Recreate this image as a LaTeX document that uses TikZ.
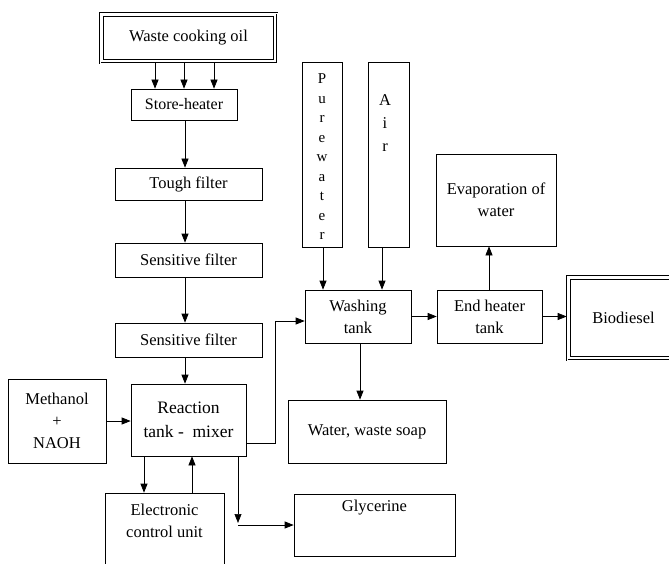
\documentclass[tikz,border=0pt]{standalone}
\usepackage{fontspec}
\setmainfont{Liberation Serif}
\usetikzlibrary{arrows.meta,calc}
\begin{document}
\begin{tikzpicture}[x=1pt,y=-1pt,
  box/.style={draw,line width=0.7pt,inner sep=0pt,align=center,font=\fontsize{16.5}{22}\selectfont},
  txt/.style={inner sep=0pt,align=center,font=\fontsize{16.5}{22}\selectfont},
  triple/.style={box,double,double distance=0.8pt,line width=0.6pt},
  arr/.style={line width=0.7pt,-{Triangle[length=9pt,width=7pt]}},
  ln/.style={line width=0.7pt}]
\useasboundingbox (0,0) rectangle (669,564);
% boxes
\node[triple,minimum width=177pt,minimum height=50pt] (woil) at (188.5,38) {Waste cooking oil};
\draw[line width=0.6pt] ([shift={(4pt,-4pt)}]woil.north west) rectangle ([shift={(-4pt,4pt)}]woil.south east);
\node[box,minimum width=106pt,minimum height=31pt,font=\fontsize{16}{20}\selectfont] (store) at (184,104.5) {Store-heater};
\node[box,minimum width=147pt,minimum height=32pt] (tough) at (188.5,184) {Tough filter};
\node[box,minimum width=147pt,minimum height=34pt] (sens1) at (188.5,260) {Sensitive filter};
\node[box,minimum width=147pt,minimum height=34pt] (sens2) at (188.5,340) {Sensitive filter};
\node[box,minimum width=115pt,minimum height=72pt,font=\fontsize{17.5}{24}\selectfont] (react) at (188.5,420) {Reaction\\tank -\ \ mixer};
\node[box,minimum width=98pt,minimum height=84pt] (meth) at (57,421) {Methanol\\+\\NAOH};
\node[box,minimum width=119pt,minimum height=87pt] (ecu) at (164.5,536.5) {};
\node[txt] (ecut) at (164.5,521) {Electronic\\control unit};
\node[box,minimum width=40pt,minimum height=185pt] (pure) at (322,154.5) {};
\node[txt,font=\fontsize{15}{19.5}\selectfont] (puret) at (322,157) {P\\u\\r\\e\\w\\a\\t\\e\\r};
\node[box,minimum width=41pt,minimum height=185pt] (air) at (388.5,154.5) {};
\node[txt,font=\fontsize{16.5}{23}\selectfont] (airt) at (385,123) {A\\i\\r};
\node[box,minimum width=120pt,minimum height=92pt] (evap) at (496,200) {Evaporation of\\water};
\node[box,minimum width=106pt,minimum height=53pt] (wash) at (358,316.5) {Washing\\tank};
\node[box,minimum width=105pt,minimum height=53pt] (endh) at (489.5,316.5) {End heater\\tank};
\node[triple,minimum width=113pt,minimum height=84pt] (bio) at (623.5,318) {Biodiesel};
\draw[line width=0.6pt] ([shift={(4pt,-4pt)}]bio.north west) rectangle ([shift={(-4pt,4pt)}]bio.south east);
\node[box,minimum width=158pt,minimum height=63pt] (wws) at (367,431.5) {Water, waste soap};
\node[box,minimum width=161pt,minimum height=62pt] (gly) at (374.5,525) {};
\node[txt] (glyt) at (374.5,508) {Glycerine};
% helper coordinates
\coordinate (a1) at (155,0);
\coordinate (a2) at (184,0);
\coordinate (a3) at (214,0);
\coordinate (cx) at (185,0);
\coordinate (c275) at (275,0);
\coordinate (e1) at (144,0);
\coordinate (e2) at (192,0);
\coordinate (g1) at (238,0);
\coordinate (g2) at (0,523);
\coordinate (p1) at (323,0);
\coordinate (p2) at (382,0);
\coordinate (s1) at (360,0);
\coordinate (h1) at (489,0);
\coordinate (r1) at ([yshift=-23pt]react.east);
\coordinate (w1) at ([yshift=-4.5pt]wash.west);
% connectors
\draw[arr] (a1 |- woil.south) -- (a1 |- store.north);
\draw[arr] (a2 |- woil.south) -- (a2 |- store.north);
\draw[arr] (a3 |- woil.south) -- (a3 |- store.north);
\draw[arr] (cx |- store.south) -- (cx |- tough.north);
\draw[arr] (cx |- tough.south) -- (cx |- sens1.north);
\draw[arr] (cx |- sens1.south) -- (cx |- sens2.north);
\draw[arr] (cx |- sens2.south) -- (cx |- react.north);
\draw[arr] (meth.east) -- (meth.east -| react.west);
\draw[arr] (r1) -| (c275 |- w1) -- (w1);
\draw[arr] (e1 |- react.south) -- (e1 |- ecu.north);
\draw[arr] (e2 |- ecu.north) -- (e2 |- react.south);
\draw[arr] (g1 |- react.south) -- (g1 |- g2);
\draw[arr] (g1 |- gly.west) -- (gly.west);
\draw[arr] (p1 |- pure.south) -- (p1 |- wash.north);
\draw[arr] (p2 |- air.south) -- (p2 |- wash.north);
\draw[arr] (wash.east) -- (endh.west);
\draw[arr] (endh.east) -- (endh.east -| bio.west);
\draw[arr] (h1 |- endh.north) -- (h1 |- evap.south);
\draw[arr] (s1 |- wash.south) -- (s1 |- wws.north);
\end{tikzpicture}
\end{document}
